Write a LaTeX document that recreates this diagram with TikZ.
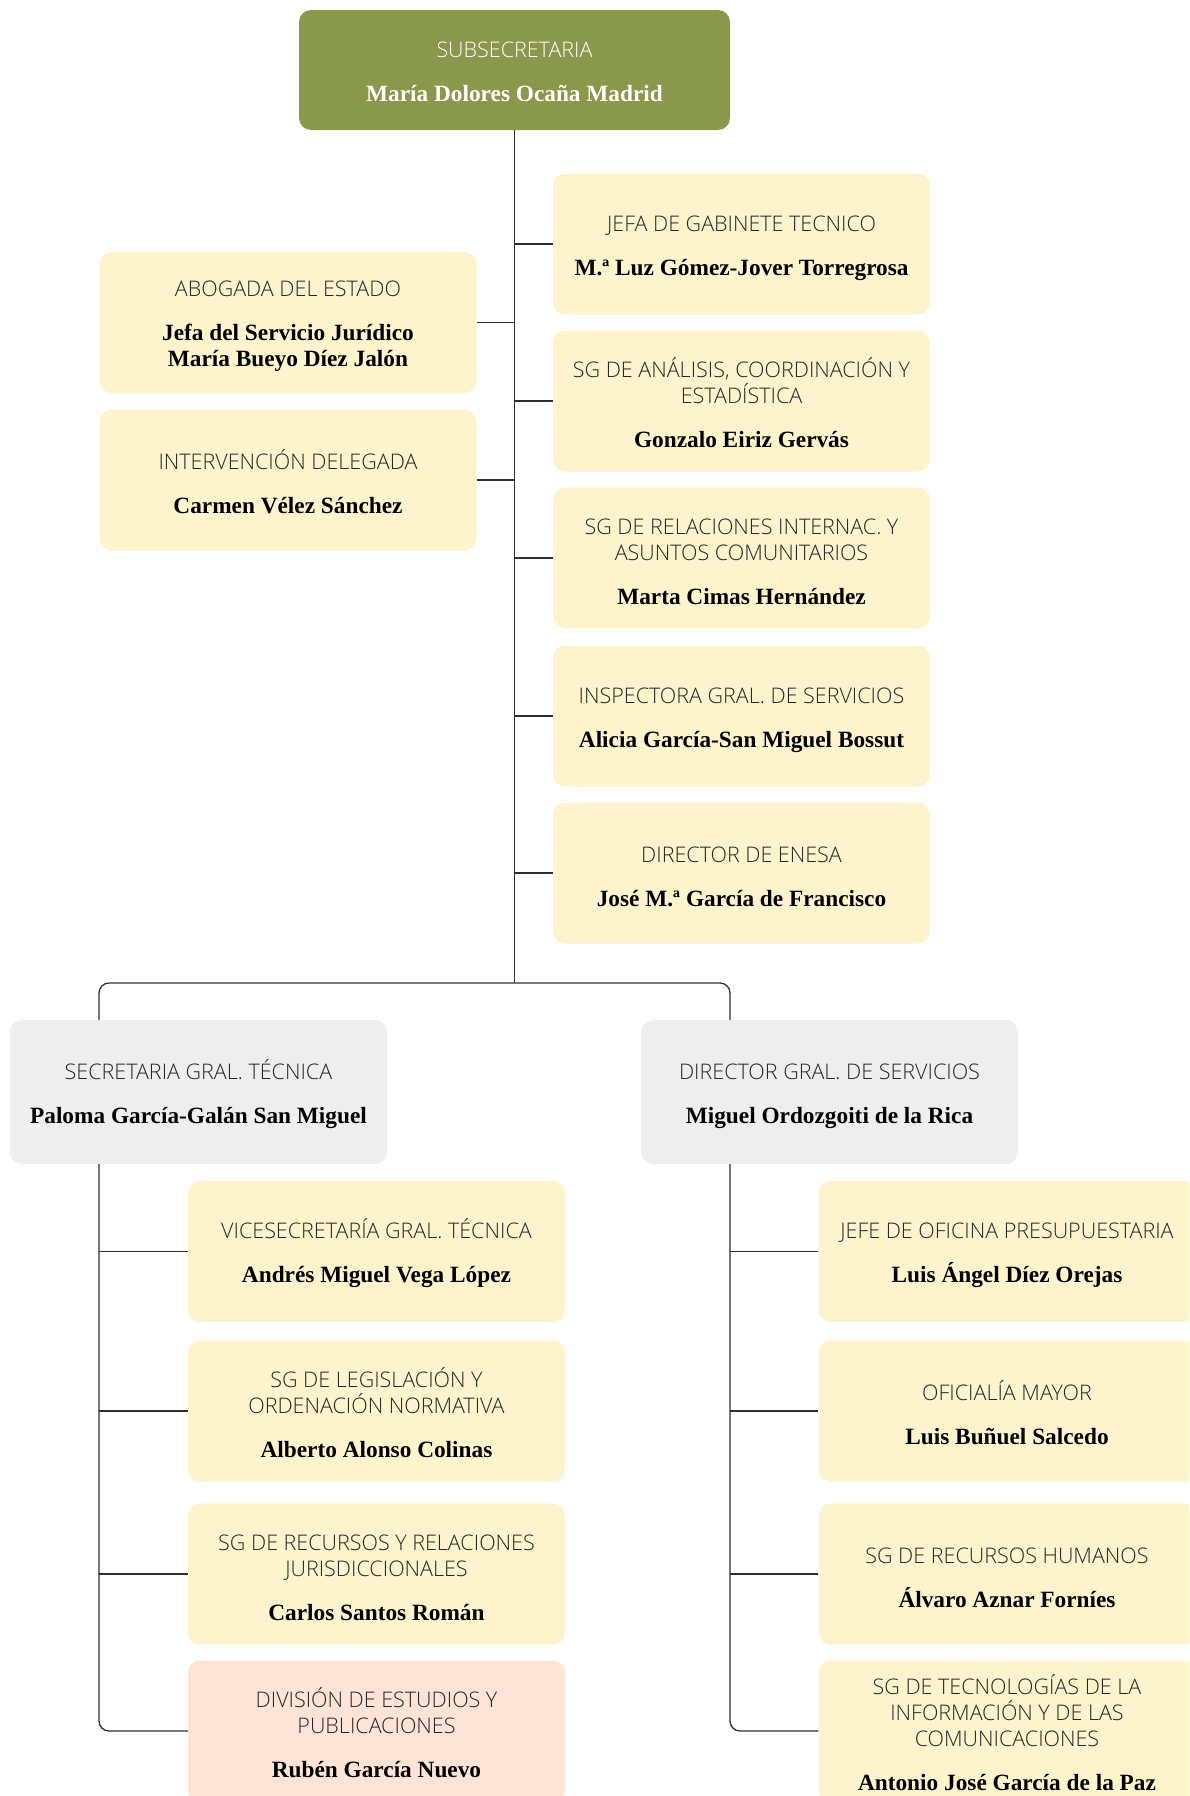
\documentclass[tikz,border=0pt]{standalone}
\usepackage{fontspec}
\IfFontExistsTF{Open Sans Light}{\newfontfamily\tfont{Open Sans Light}}{\newfontfamily\tfont{Open Sans}}
\newfontfamily\nfont{Liberation Serif}
\definecolor{olive}{HTML}{8A984B}
\definecolor{cream}{HTML}{FDF3CC}
\definecolor{greyb}{HTML}{EEEEEE}
\definecolor{pinkb}{HTML}{FDE4D6}
\definecolor{tcol}{HTML}{262626}
\definecolor{lcol}{HTML}{2E2E2E}
\newcommand\nm[1]{{\fontsize{23.3}{26}\selectfont\nfont\bfseries #1}}
\newcommand\st{\rule{0pt}{23.5pt}}
\begin{document}
\begin{tikzpicture}[x=1pt,y=-1pt,
  box/.style={rounded corners=12pt, minimum width=377pt, minimum height=141pt, align=center, inner sep=0pt,
    font=\fontsize{21.5}{26}\selectfont\tfont, text=tcol},
  yel/.style={box, fill=cream},
  gry/.style={box, fill=greyb, minimum height=144pt},
  pnk/.style={box, fill=pinkb},
  conn/.style={draw=lcol, line width=1.3pt}]
\useasboundingbox (0,0) rectangle (1189,1796);
\clip (0,0) rectangle (1189,1796);
% top
\node[box, fill=olive, text=white, minimum width=431pt, minimum height=120pt] (top) at (514.5,70)
  {\rule{0pt}{19pt}SUBSECRETARIA\\[18pt]\nm{María Dolores Ocaña Madrid}};
% right column
\node[yel] (r1) at (741.5,244) {\st JEFA DE GABINETE TECNICO\\[18pt]\color{black}\nm{M.ª Luz Gómez-Jover Torregrosa}};
\node[yel] (r2) at (741.5,401) {\st SG DE ANÁLISIS, COORDINACIÓN Y\\ESTADÍSTICA\\[18pt]\color{black}\nm{Gonzalo Eiriz Gervás}};
\node[yel] (r3) at (741.5,558) {\st SG DE RELACIONES INTERNAC. Y\\ASUNTOS COMUNITARIOS\\[18pt]\color{black}\nm{Marta Cimas Hernández}};
\node[yel] (r4) at (741.5,716) {\st INSPECTORA GRAL. DE SERVICIOS\\[18pt]\color{black}\nm{Alicia García-San Miguel Bossut}};
\node[yel] (r5) at (741.5,873) {\st DIRECTOR DE ENESA\\[18pt]\color{black}\nm{José M.ª García de Francisco}};
% left column
\node[yel] (l1) at (288,322.5) {\st ABOGADA DEL ESTADO\\[18pt]\color{black}\nm{Jefa del Servicio Jurídico}\\\color{black}\nm{María Bueyo Díez Jalón}};
\node[yel] (l2) at (288,480) {\st INTERVENCIÓN DELEGADA\\[18pt]\color{black}\nm{Carmen Vélez Sánchez}};
% grey heads
\node[gry] (sgt) at (198.5,1092) {\st SECRETARIA GRAL. TÉCNICA\\[18pt]\color{black}\nm{Paloma García-Galán San Miguel}};
\node[gry] (dgs) at (829.5,1092) {\st DIRECTOR GRAL. DE SERVICIOS\\[18pt]\color{black}\nm{Miguel Ordozgoiti de la Rica}};
% left sub
\node[yel] (a1) at (376.5,1251.5) {\st VICESECRETARÍA GRAL. TÉCNICA\\[18pt]\color{black}\nm{Andrés Miguel Vega López}};
\node[yel] (a2) at (376.5,1411) {\st SG DE LEGISLACIÓN Y\\ORDENACIÓN NORMATIVA\\[18pt]\color{black}\nm{Alberto Alonso Colinas}};
\node[yel] (a3) at (376.5,1574) {\st SG DE RECURSOS Y RELACIONES\\JURISDICCIONALES\\[18pt]\color{black}\nm{Carlos Santos Román}};
\node[pnk] (a4) at (376.5,1731) {\st DIVISIÓN DE ESTUDIOS Y\\PUBLICACIONES\\[18pt]\color{black}\nm{Rubén García Nuevo}};
% right sub
\node[yel] (b1) at (1007,1251.5) {\st JEFE DE OFICINA PRESUPUESTARIA\\[18pt]\color{black}\nm{Luis Ángel Díez Orejas}};
\node[yel] (b2) at (1007,1411) {\st OFICIALÍA MAYOR\\[18pt]\color{black}\nm{Luis Buñuel Salcedo}};
\node[yel] (b3) at (1007,1574) {\st SG DE RECURSOS HUMANOS\\[18pt]\color{black}\nm{Álvaro Aznar Forníes}};
\node[yel] (b4) at (1007,1731) {\st SG DE TECNOLOGÍAS DE LA\\INFORMACIÓN Y DE LAS\\COMUNICACIONES\\[18pt]\color{black}\nm{Antonio José García de la Paz}};
% connectors
\coordinate (tb) at (514.5,983);
\coordinate (bl) at (99,1020);
\coordinate (br) at (730,1020);
\coordinate (bl2) at (99,1164);
\coordinate (br2) at (730,1164);
\draw[conn] (top.south) -- (tb);
\foreach \n in {r1,r2,r3,r4,r5} \draw[conn] (\n.west) -- (\n.west -| top.south);
\foreach \n in {l1,l2} \draw[conn] (\n.east) -- (\n.east -| top.south);
\draw[conn, rounded corners=10pt] (bl) |- (tb) -| (br);
\draw[conn, rounded corners=10pt] (bl2) |- (a4.west);
\draw[conn, rounded corners=10pt] (br2) |- (b4.west);
\foreach \n in {a1,a2,a3} \draw[conn] (\n.west) -- (\n.west -| bl2);
\foreach \n in {b1,b2,b3} \draw[conn] (\n.west) -- (\n.west -| br2);
\end{tikzpicture}
\end{document}
